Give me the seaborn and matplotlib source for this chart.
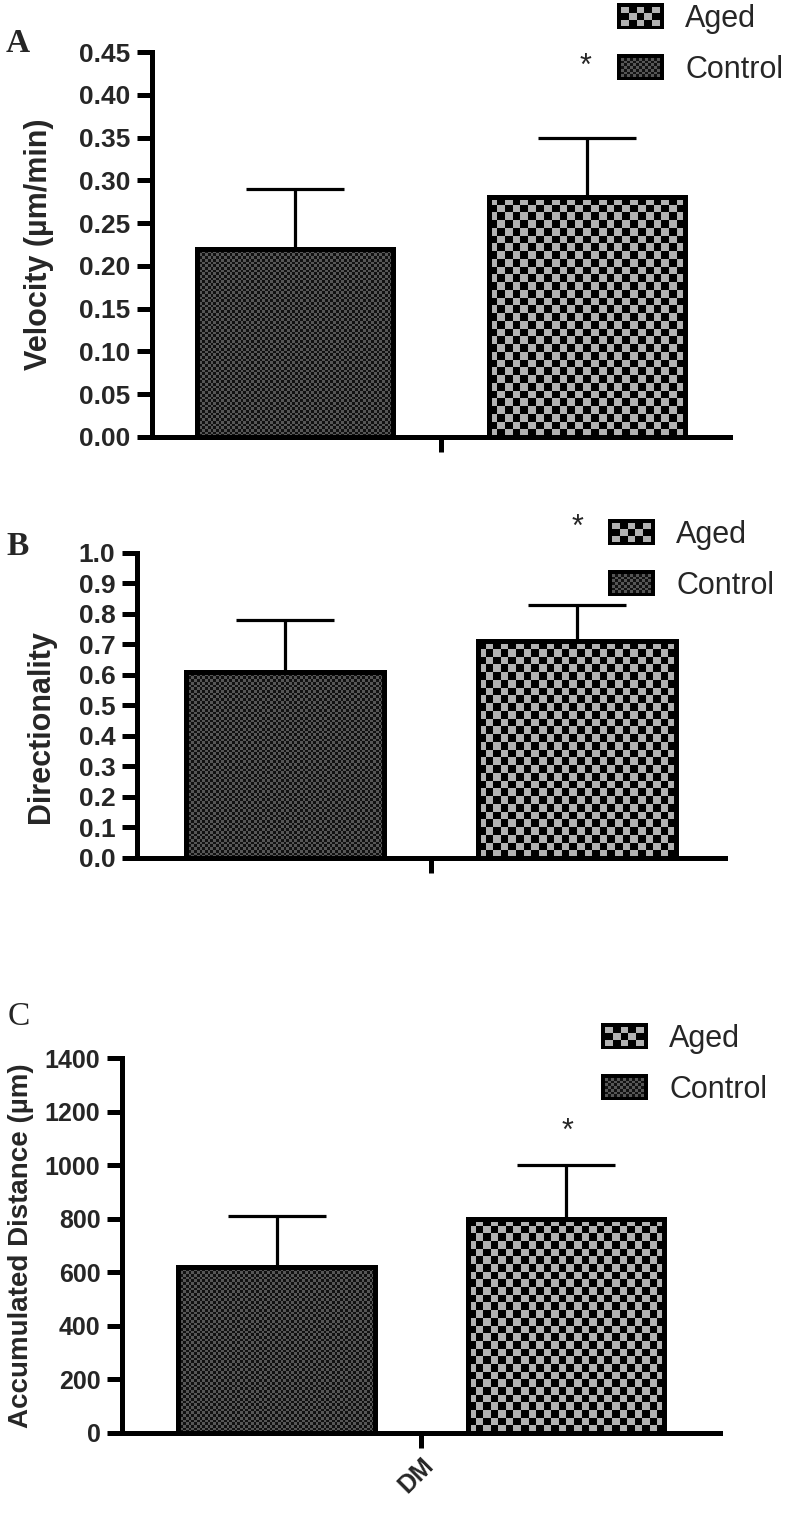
import numpy as np
import matplotlib
matplotlib.use("Agg")
import matplotlib.pyplot as plt
import seaborn as sns
from matplotlib.legend_handler import HandlerBase
from matplotlib.image import BboxImage
from matplotlib.transforms import Bbox, TransformedBbox
from matplotlib.patches import Rectangle, Patch

# ---------------- data ----------------
groups = ["Control", "Aged"]
legend_labels = ["Aged", "Control"]
x_category = "DM"

velocity_mean = [0.22, 0.28]
velocity_sd = [0.07, 0.07]
velocity_ticks = [0.00, 0.05, 0.10, 0.15, 0.20, 0.25, 0.30, 0.35, 0.40, 0.45]
velocity_ticklabels = ["0.00", "0.05", "0.10", "0.15", "0.20", "0.25", "0.30", "0.35", "0.40", "0.45"]

direction_mean = [0.61, 0.71]
direction_sd = [0.17, 0.12]
direction_ticks = [0.0, 0.1, 0.2, 0.3, 0.4, 0.5, 0.6, 0.7, 0.8, 0.9, 1.0]
direction_ticklabels = ["0.0", "0.1", "0.2", "0.3", "0.4", "0.5", "0.6", "0.7", "0.8", "0.9", "1.0"]

distance_mean = [620, 800]
distance_sd = [190, 200]
distance_ticks = [0, 200, 400, 600, 800, 1000, 1200, 1400]
distance_ticklabels = ["0", "200", "400", "600", "800", "1000", "1200", "1400"]

# ---------------- style ----------------
sns.set_style("ticks")
plt.rcParams["font.family"] = ["Liberation Sans", "DejaVu Sans"]

W, H = 787, 1518
fig = plt.figure(figsize=(W / 100, H / 100), dpi=100)

CTRL_COLS = (np.array([0.34, 0.34, 0.34]), np.array([0.07, 0.07, 0.07]))
AGED_COLS = (np.array([0.70, 0.70, 0.70]), np.array([0.0, 0.0, 0.0]))
CHECK_PX = {"Control": 2.7, "Aged": 7.7}


def checker(nr, nc, c1, c2):
    m = np.add.outer(np.arange(nr), np.arange(nc)) % 2
    return np.where(m[..., None] == 0, c1, c2)


class CheckerHandler(HandlerBase):
    def __init__(self, img):
        super().__init__()
        self.img = img

    def create_artists(self, legend, orig_handle, xdescent, ydescent,
                       width, height, fontsize, trans):
        back = Rectangle((-xdescent, -ydescent), width, height,
                         facecolor="black", edgecolor="black", lw=0, transform=trans)
        pad_x, pad_y = width * 0.09, height * 0.14
        bb = TransformedBbox(Bbox.from_bounds(-xdescent + pad_x, -ydescent + pad_y,
                                              width - 2 * pad_x, height - 2 * pad_y), trans)
        im = BboxImage(bb, interpolation="nearest")
        im.set_data(self.img)
        return [back, im]


def fig_rect(left, right, top, bottom):
    return [left / W, 1 - bottom / H, (right - left) / W, (bottom - top) / H]


panels = [
    dict(rect=fig_rect(152, 730, 52, 437), xlim=(-0.49, 1.49), width=0.67,
         mean=velocity_mean, sd=velocity_sd, ticks=velocity_ticks, tl=velocity_ticklabels,
         ylabel="Velocity (µm/min)", ylab_px=54, ylab_y=0.5, xlabel="", letter="A",
         letter_pos=(6, 52), letter_weight="bold", star=(585, 67), leg=(617, 3),
         lfs=19, yfs=22),
    dict(rect=fig_rect(137, 725, 553, 858), xlim=(-0.51, 1.51), width=0.68,
         mean=direction_mean, sd=direction_sd, ticks=direction_ticks, tl=direction_ticklabels,
         ylabel="Directionality", ylab_px=56, ylab_y=0.43, xlabel="", letter="B",
         letter_pos=(6, 555), letter_weight="bold", star=(577, 528), leg=(608, 519),
         lfs=19, yfs=22),
    dict(rect=fig_rect(122, 720, 1058, 1433), xlim=(-0.534, 1.532), width=0.68,
         mean=distance_mean, sd=distance_sd, ticks=distance_ticks, tl=distance_ticklabels,
         ylabel="Accumulated Distance (µm)", ylab_px=34, ylab_y=0.5, xlabel=x_category,
         letter="C", letter_pos=(8, 1025), letter_weight="normal", star=(567, 1132),
         leg=(601, 1023), lfs=18, yfs=20),
]

for p in panels:
    ax = fig.add_axes(p["rect"])
    sns.barplot(x=groups, y=p["mean"], hue=groups, order=groups, hue_order=groups,
                palette={"Control": "#555555", "Aged": "#b3b3b3"}, width=p["width"],
                errorbar=None, legend=False, edgecolor="black", linewidth=3.6,
                saturation=1, ax=ax)
    ax.errorbar(x=[0, 1], y=p["mean"], yerr=[[0, 0], p["sd"]], fmt="none",
                ecolor="black", elinewidth=2.3, capsize=35, capthick=2.3, zorder=1)
    ax.set_xlim(*p["xlim"])
    ax.set_ylim(p["ticks"][0], p["ticks"][-1])

    # checkerboard fills clipped to each bar
    for patch, g in zip(ax.patches, groups):
        x0, y0 = patch.get_x(), patch.get_y()
        x1, y1 = x0 + patch.get_width(), y0 + patch.get_height()
        (px0, py0), (px1, py1) = ax.transData.transform([(x0, y0), (x1, y1)])
        nc = max(1, int(round(abs(px1 - px0) / CHECK_PX[g])))
        nr = max(1, int(round(abs(py1 - py0) / CHECK_PX[g])))
        cols = CTRL_COLS if g == "Control" else AGED_COLS
        img = checker(nr, nc, *cols)
        im = ax.imshow(img, extent=[x0, x1, y0, y1], origin="lower",
                       interpolation="nearest", aspect="auto",
                       zorder=patch.get_zorder() - 0.1)
        im.set_clip_path(patch)
        patch.set_facecolor("none")
        patch.set_zorder(patch.get_zorder() + 0.2)
    ax.set_xlim(*p["xlim"])
    ax.set_ylim(p["ticks"][0], p["ticks"][-1])

    sns.despine(ax=ax)
    for s in ("left", "bottom"):
        ax.spines[s].set_linewidth(3.6)
        ax.spines[s].set_color("black")
    ax.set_yticks(p["ticks"], labels=p["tl"], fontsize=p["lfs"], fontweight="bold")
    ax.set_xticks([0.5], labels=[p["xlabel"]], fontsize=p["lfs"], fontweight="bold",
                  rotation=45, ha="right", rotation_mode="anchor")
    ax.tick_params(axis="y", length=10.5, width=3.6, pad=5, color="black")
    ax.tick_params(axis="x", length=10.5, width=3.6, pad=4, color="black")
    ax.set_xlabel("")
    ax.set_ylabel(p["ylabel"], fontsize=p["yfs"], fontweight="bold")
    axw_px = p["rect"][2] * W
    axl_px = p["rect"][0] * W
    ax.yaxis.set_label_coords((p["ylab_px"] - axl_px) / axw_px, p["ylab_y"])

    # legend
    aged_img = checker(3, 5, *AGED_COLS)
    ctrl_img = checker(7, 13, *CTRL_COLS)
    h_aged = Patch(label="Aged")
    h_ctrl = Patch(label="Control")
    lx, ly = p["leg"]
    fig.legend(handles=[h_aged, h_ctrl], labels=legend_labels,
               handler_map={h_aged: CheckerHandler(aged_img), h_ctrl: CheckerHandler(ctrl_img)},
               loc="upper left", bbox_to_anchor=(lx / W, 1 - ly / H), frameon=False,
               borderpad=0, borderaxespad=0, fontsize=22, handlelength=1.55,
               handleheight=0.95, handletextpad=0.68, labelspacing=0.66)

    fig.text(p["star"][0] / W, 1 - p["star"][1] / H, "*", fontsize=22,
             ha="center", va="center")
    fig.text(p["letter_pos"][0] / W, 1 - p["letter_pos"][1] / H, p["letter"],
             fontsize=24, fontweight=p["letter_weight"], family="Liberation Serif",
             ha="left", va="baseline")

fig.savefig("out.png", dpi=100)
